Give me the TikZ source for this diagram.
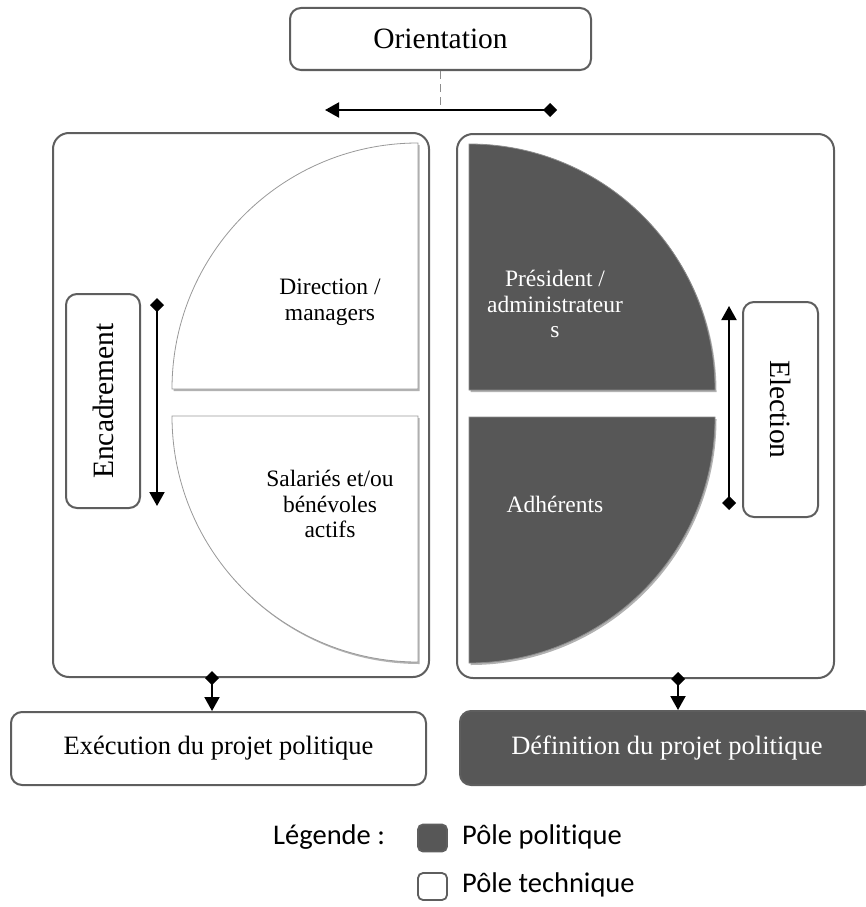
\documentclass[tikz,border=0pt]{standalone}
\usepackage{fontspec}
\setmainfont{Liberation Serif}
\newfontfamily\legfont[Ligatures={NoCommon}]{Carlito}
\usetikzlibrary{arrows.meta,shadows}
\definecolor{darkfill}{HTML}{575757}
\definecolor{edgegray}{HTML}{5E5E5E}
\tikzset{
  rbox/.style={draw=edgegray, line width=2pt, rounded corners=11pt, fill=white, inner sep=0pt, align=center},
  bigbox/.style={draw=edgegray, line width=2pt, rounded corners=16pt, fill=white},
  darkbox/.style={rbox, fill=darkfill, text=white},
  bigfont/.style={font=\fontsize{29.5}{32}\selectfont},
  midfont/.style={font=\fontsize{26.5}{30}\selectfont},
  smallfont/.style={font=\fontsize{23.5}{25.5}\selectfont},
  legfnt/.style={font=\legfont\fontsize{28.5}{32}\selectfont, inner sep=0pt},
  piecelight/.style={fill=white, draw=black!40, line width=0.8pt,
     drop shadow={shadow xshift=1.5pt, shadow yshift=-2pt, opacity=0.3, fill=black}},
  piecedark/.style={fill=darkfill, draw=black!45, line width=0.8pt,
     drop shadow={shadow xshift=1.5pt, shadow yshift=-2pt, opacity=0.3, fill=black}},
  piecetext/.style={smallfont, align=center, inner sep=0pt},
  link/.style={line width=2pt, draw=black, {Diamond[length=14pt,width=14pt]}-{Triangle[length=14pt,width=15pt]}},
  guide/.style={draw=black!45, line width=1.5pt, dash pattern=on 8pt off 5pt}
}
\begin{document}
\begin{tikzpicture}[x=1pt,y=-1pt]
\useasboundingbox (0,0) rectangle (865,907);

% top box
\node[rbox, bigfont, minimum width=301pt, minimum height=62pt] (orient) at (440.5,39) {Orientation};

% big containers
\node[bigbox, minimum width=376pt, minimum height=544pt] (lbox) at (241,405) {};
\node[bigbox, minimum width=377pt, minimum height=544pt] (rbox) at (645.5,406) {};

% left pieces
\path[piecelight] (172,389) arc[start angle=180, end angle=90, radius=246pt] -- (418,389) -- cycle;
\path[piecelight] (172,416) arc[start angle=180, end angle=270, radius=246pt] -- (418,416) -- cycle;
% right pieces
\path[piecedark] (469,144) arc[start angle=90, end angle=0, radius=246pt] -- (469,390) -- cycle;
\path[piecedark] (715,417) arc[start angle=0, end angle=-90, radius=246pt] -- (469,417) -- cycle;

% piece labels
\node[piecetext] (dir) at (330,302.5) {Direction /\\managers};
\node[piecetext] (sal) at (330,504) {Salariés et/ou\\bénévoles\\actifs};
\node[piecetext, text=white] (pres) at (555,304) {Président /\\administrateur\\s};
\node[piecetext, text=white] (adh) at (555,504) {Adhérents};

% side boxes
\node[rbox, bigfont, rotate=90, minimum width=214pt, minimum height=74pt] (enc) at (103,401) {Encadrement};
\node[rbox, bigfont, rotate=-90, minimum width=215pt, minimum height=75pt] (elec) at (780.5,409.5) {Election};

% bottom boxes
\node[rbox, midfont, minimum width=415pt, minimum height=73pt] (exec) at (218.5,748.5) {Exécution du projet politique};
\node[darkbox, midfont, minimum width=414pt, minimum height=74pt] (defi) at (667,748) {Définition du projet politique};

% connectors
\coordinate (ostart) at (557,110);
\coordinate (oend) at (325,110);
\coordinate (omid) at (440.5,106);
\draw[guide] (orient.south) -- (omid);
\draw[link] (ostart) -- (oend);

\coordinate (encA) at (157,298);
\coordinate (encB) at (157,506);
\draw[link] (encA) -- (encB);

\coordinate (elecA) at (729,510);
\coordinate (elecB) at (729,306);
\draw[link] (elecA) -- (elecB);

\coordinate (colL) at (212,0);
\coordinate (colR) at (678,0);
\draw[link] ([yshift=7pt]lbox.south -| colL) -- (exec.north -| colL);
\draw[link] ([yshift=7pt]rbox.south -| colR) -- (defi.north -| colR);

% legend
\node[legfnt, anchor=west] (legtitle) at (273,837) {Légende :};
\node[draw=edgegray, fill=darkfill, line width=1.8pt, rounded corners=5pt, minimum width=29pt, minimum height=27pt, inner sep=0pt] (sqpol) at (432.5,838) {};
\node[legfnt, anchor=west] (txtpol) at (462,837) {Pôle politique};
\node[draw=edgegray, fill=white, line width=1.8pt, rounded corners=5pt, minimum width=29pt, minimum height=27pt, inner sep=0pt] (sqtec) at (432.5,886.5) {};
\node[legfnt, anchor=west] (txttec) at (462,885) {Pôle technique};
\end{tikzpicture}
\end{document}
